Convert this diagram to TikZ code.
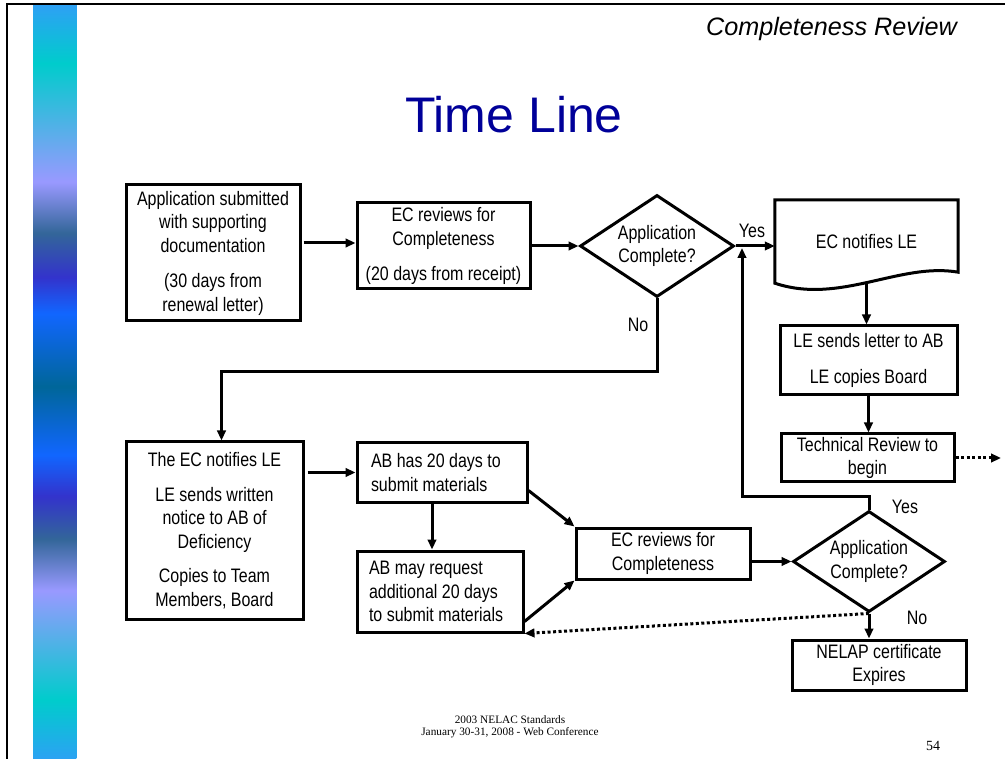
\documentclass[tikz,border=0pt]{standalone}
\usepackage{fontspec}
\setmainfont{Liberation Sans}
\newfontfamily\narrowf{Liberation Sans}[FakeStretch=0.82]
\newfontfamily\timesf{Liberation Serif}
\usetikzlibrary{shapes.geometric,arrows.meta}
\definecolor{titleblue}{HTML}{000099}
\definecolor{sbA}{HTML}{2EA0F5}
\definecolor{sbB}{HTML}{00CCCC}
\definecolor{sbC}{HTML}{9999FF}
\definecolor{sbD}{HTML}{336699}
\definecolor{sbE}{HTML}{3333CC}
\definecolor{sbF}{HTML}{1166FF}
\definecolor{sbG}{HTML}{006699}
\pgfdeclareverticalshading{sidebar}{43bp}{color(0bp)=(sbA); color(62bp)=(sbB); color(171bp)=(sbC); color(222bp)=(sbD); color(265bp)=(sbE); color(306bp)=(sbF); color(374bp)=(sbG); color(447bp)=(sbF); color(483bp)=(sbE); color(527bp)=(sbD); color(578bp)=(sbC); color(696bp)=(sbB); color(755bp)=(sbA)}
\newcommand\boxfont{\narrowf\fontsize{19.5}{23.5}\selectfont}
\begin{document}
\begin{tikzpicture}[x=1pt,y=-1pt,
  box/.style={draw, line width=3pt, inner sep=0pt, align=center, font=\boxfont},
  dia/.style={draw, diamond, shape aspect=1.5, line width=3pt, inner sep=0pt, align=center, font=\boxfont},
  arr/.style={line width=3pt, -{Triangle[length=10pt,width=8.5pt]}},
  dotarr/.style={arr, dash pattern=on 3pt off 2.5pt},
  lbl/.style={font=\boxfont, inner sep=0pt}]
\useasboundingbox (0,0) rectangle (1005,759);
% sidebar and page frame
\node[inner sep=0pt, anchor=north west] (bar) at (33,4) {\pgfuseshading{sidebar}};
\draw[line width=1.5pt] (1005,4) -- (7,4) -- (7,759);
% headings
\node[anchor=base east, inner sep=0pt, font=\itshape\fontsize{25.2}{29}\selectfont] (sub) at (957,36) {Completeness Review};
\node[anchor=base, inner sep=0pt, text=titleblue, font=\fontsize{50}{56}\selectfont] (title) at (514,133) {Time Line};
% nodes
\node[box, minimum width=174pt, minimum height=136pt] (A) at (213,253) {Application submitted\\with supporting\\documentation\\[12pt](30 days from\\renewal letter)};
\node[box, minimum width=173pt, minimum height=86pt] (B) at (443.5,246) {EC reviews for\\Completeness\\[12pt](20 days from receipt)};
\node[dia, minimum width=154pt, minimum height=102pt] (D1) at (657,246) {Application\\Complete?};
\node[inner sep=0pt, minimum width=183pt, minimum height=83pt, font=\boxfont] (doc) at (866.5,241.5) {EC notifies LE};
\draw[line width=3pt, line join=miter] (doc.south west) -- (doc.north west) -- (doc.north east) -- ([yshift=11pt]doc.south east) .. controls (900,262) and (840,305) .. (doc.south west) -- cycle;
\node[box, minimum width=177pt, minimum height=69pt] (C) at (868.5,360.5) {LE sends letter to AB\\[13pt]LE copies Board};
\node[box, minimum width=173pt, minimum height=48pt] (T) at (867.5,458) {Technical Review to\\begin};
\node[box, minimum width=177pt, minimum height=177pt] (E) at (214.5,530.5) {The EC notifies LE\\[11pt]LE sends written\\notice to AB of\\Deficiency\\[11pt]Copies to Team\\Members, Board};
\node[box, align=flush left, text width=142pt, inner xsep=14pt, minimum height=59pt] (F) at (442,472.5) {AB has 20 days to\\submit materials};
\node[box, align=flush left, text width=142pt, inner xsep=12pt, minimum height=81pt] (G) at (440,591.5) {AB may request\\additional 20 days\\to submit materials};
\node[box, minimum width=174pt, minimum height=51pt] (H) at (663,553.5) {EC reviews for\\Completeness};
\node[dia, minimum width=152pt, minimum height=101pt] (D2) at (869,561.5) {Application\\Complete?};
\node[box, minimum width=174pt, minimum height=50pt] (I) at (879,665) {NELAP certificate\\Expires};
% labels
\node[lbl] (yes1) at (752,231) {Yes};
\node[lbl] (no1) at (638,325) {No};
\node[lbl] (yes2) at (905,507) {Yes};
\node[lbl] (no2) at (917,618) {No};
% coordinates
\coordinate (off) at (1001,458);
\coordinate (yesjoin) at (742,246);
% connectors
\draw[arr] ([xshift=2pt]A.east |- 0,243) -- (B.west |- 0,243);
\draw[arr] (B.east) -- (D1.west);
\draw[arr] (D1.east) -- (D1.east -| doc.west);
\draw[arr] (doc.south) -- (doc.south |- C.north);
\draw[arr] (C.south) -- (C.south |- T.north);
\draw[dotarr] (T.east) -- (off);
\draw[arr] (D1.south) -- ++(0,73) -| ([xshift=7pt]E.north);
\draw[arr] ([xshift=3pt]E.east |- F.west) -- (F.west);
\draw[arr] ([xshift=-10pt]F.south) -- ([xshift=-10pt]F.south |- G.north);
\draw[arr] ([yshift=-18pt]F.east) -- (H.north west);
\draw[arr] ([yshift=-30pt]G.east) -- (H.south west);
\draw[arr] (H.east |- D2.west) -- (D2.west);
\draw[arr, shorten >=2pt] (D2.north) -- ++(0,-13) -| (yesjoin);
\draw[arr] (D2.south) -- (D2.south |- I.north);
\draw[dotarr] (D2.south) -- (G.south east);
% footer
\node[inner sep=0pt, align=center, font=\timesf\fontsize{11.3}{12.5}\selectfont] (foot) at (510,727) {2003 NELAC Standards\\January 30-31, 2008 - Web Conference};
\node[inner sep=0pt, font=\timesf\fontsize{14}{16}\selectfont] (page) at (933,746) {54};
\end{tikzpicture}
\end{document}
